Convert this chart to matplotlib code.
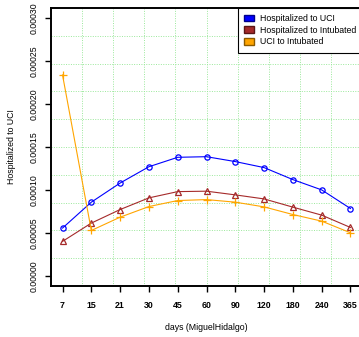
import numpy as np
import matplotlib.pyplot as plt
from matplotlib.patches import Patch

days = ['7', '15', '21', '30', '45', '60', '90', '120', '180', '240', '365']
hosp_uci = [0.0000555, 0.0000857, 0.000108, 0.000127, 0.000138, 0.0001387,
            0.000133, 0.000126, 0.000112, 0.000100, 0.0000783]
hosp_intub = [0.0000400, 0.0000613, 0.0000771, 0.0000907, 0.0000980, 0.0000985,
              0.0000942, 0.0000895, 0.0000799, 0.0000706, 0.0000562]
uci_intub = [0.000234, 0.0000527, 0.0000682, 0.0000806, 0.0000876, 0.0000887,
             0.0000857, 0.0000802, 0.0000713, 0.0000636, 0.0000500]
yticks = [0, 0.00005, 0.0001, 0.00015, 0.0002, 0.00025, 0.0003]

plt.rcParams['font.family'] = ['Liberation Sans', 'DejaVu Sans']
W, H = 359, 337
fig = plt.figure(figsize=(W / 100, H / 100), dpi=100)
ax = fig.add_axes([51 / W, 51 / H, 311 / W, 278 / H])

x = np.arange(1, len(days) + 1)
ax.set_xlim(0.6, 11.4)
ax.set_ylim(-0.000012, 0.000312)

# grid: 10 equal divisions of the plot region
for k in range(1, 10):
    ax.plot([k / 10, k / 10], [0, 1], transform=ax.transAxes, color='#9be89b',
            lw=0.7, ls=(0, (1, 1.5)), zorder=0)
    ax.plot([0, 1], [k / 10, k / 10], transform=ax.transAxes, color='#9be89b',
            lw=0.7, ls=(0, (1, 1.5)), zorder=0)

ax.plot(x, hosp_uci, color='#0000ff', lw=0.8, marker='o', ms=3.8,
        mfc='none', mec='#0000ff', mew=0.9)
ax.plot(x, hosp_intub, color='#a52a2a', lw=0.8, marker='^', ms=4.2,
        mfc='none', mec='#a52a2a', mew=0.9)
ax.plot(x, uci_intub, color='#ffa500', lw=0.8, marker='+', ms=6,
        mec='#ffa500', mew=0.9)

ax.set_xticks(x)
ax.set_xticklabels(days, fontweight='bold', fontsize=6.3)
ax.set_yticks(yticks)
ax.set_yticklabels(['%.5f' % v for v in yticks], rotation=90, va='center', fontsize=6.3)
ax.tick_params(axis='both', direction='out', length=4, width=1)
ax.tick_params(axis='x', pad=7)
ax.tick_params(axis='y', pad=5)
for s in ax.spines.values():
    s.set_linewidth(1.4)

ax.set_xlabel('days (MiguelHidalgo)', fontsize=6.3, labelpad=9)
ax.set_ylabel('Hospitalized to UCI', fontsize=6.3, labelpad=10)

handles = [Patch(facecolor='#0000ff', edgecolor='#00008b'),
           Patch(facecolor='#a52a2a', edgecolor='#5a1515'),
           Patch(facecolor='#ffa500', edgecolor='#8b5a00')]
leg = ax.legend(handles, ['Hospitalized to UCI', 'Hospitalized to Intubated', 'UCI to Intubated'],
                loc='upper right', bbox_to_anchor=(1.0, 1.0), fontsize=6.3, fancybox=False,
                framealpha=1, edgecolor='black', borderpad=0.7, labelspacing=0.3,
                handlelength=1.1, handleheight=0.8, handletextpad=0.7, borderaxespad=0)
leg.get_frame().set_linewidth(0.8)

fig.savefig('out.png', dpi=100)
